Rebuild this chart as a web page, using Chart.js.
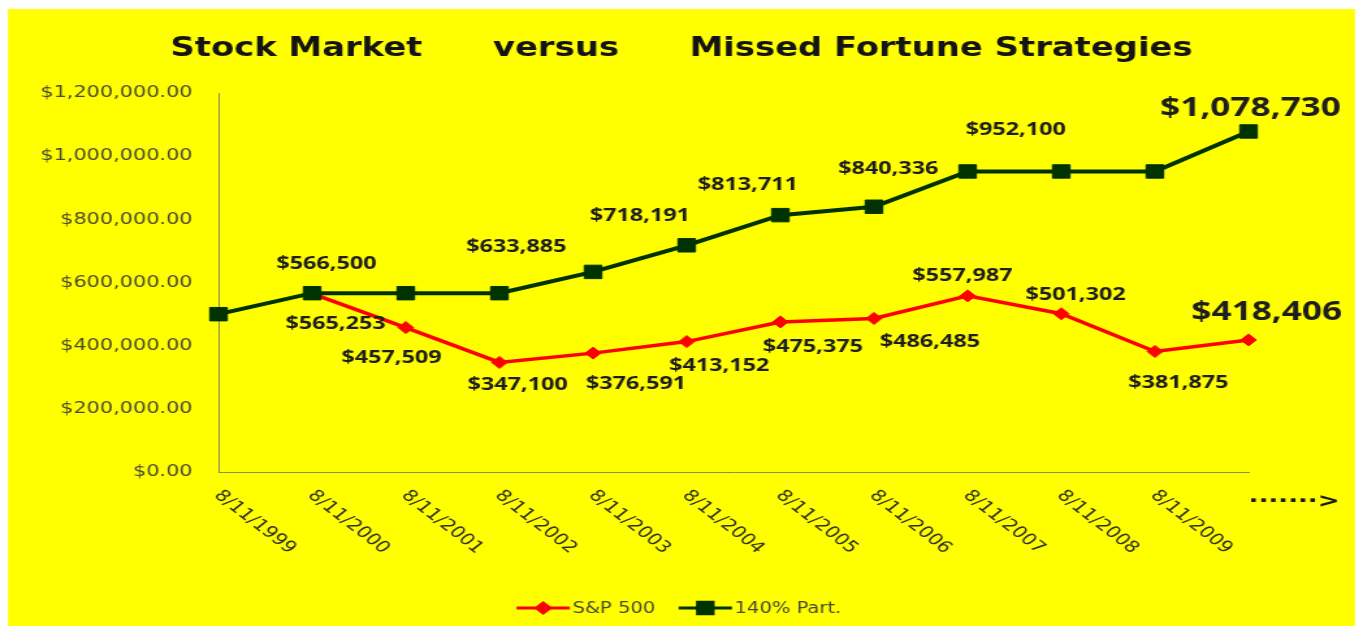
<!DOCTYPE html>
<html>
<head>
<meta charset="utf-8">
<script src="https://cdn.jsdelivr.net/npm/chart.js@4.4.1/dist/chart.umd.min.js"></script>
<style>
  html, body { margin: 0; padding: 0; background: #ffffff; overflow: hidden; }
  #wrap { position: absolute; left: 0; top: 0; width: 1048px; height: 632px;
          transform: scaleX(1.30057); transform-origin: 0 0; }
</style>
</head>
<body>
<div id="wrap"><canvas id="c"></canvas></div>
<script>
// ---------------- data ----------------
const categories = ['8/11/1999','8/11/2000','8/11/2001','8/11/2002','8/11/2003','8/11/2004',
                    '8/11/2005','8/11/2006','8/11/2007','8/11/2008','8/11/2009','\u00B7\u00B7\u00B7\u00B7\u00B7\u00B7\u00B7>'];
const sp500Values   = [null, 565253, 457509, 347100, 376591, 413152, 475375, 486485, 557987, 501302, 381875, 418406];
const part140Values = [500000, 566500, 566500, 566500, 633885, 718191, 813711, 840336, 952100, 952100, 952100, 1078730];
const seriesNames = ['S&P 500', '140% Part.'];
const yMin = 0, yMax = 1200000, yStep = 200000;
const chartTitle = 'Stock Market      versus      Missed Fortune Strategies';

// ---------------- style (label placement offsets, px) ----------------
const spLabelOffsets   = [null,[18,30],[-11,30],[14,22],[33,31],[25,24],[25,25],[43,23],[-4,-20],[11,-19],[18,31],[14,-28]];
const partLabelOffsets = [null,[11,-29],null,null,[-59,-25],[-36,-29],[-25,-30],[11,-38],[37,-42],null,null,[1.5,-23]];

const RED = '#ff0000';
const GREEN = '#003300';
const AXIS = '#8a8a5a';
const TICK_COLOR = '#4a4a30';

Chart.defaults.font.family = "'DejaVu Sans', sans-serif";

const money = v => '$' + Math.round(v).toLocaleString('en-US');
const money2 = v => '$' + Number(v).toLocaleString('en-US', {minimumFractionDigits: 2, maximumFractionDigits: 2});

const bgPlugin = {
  id: 'bg',
  beforeDraw(chart) {
    const ctx = chart.ctx;
    ctx.save();
    ctx.fillStyle = '#ffff00';
    ctx.fillRect(8 / 1.30057, 9, (1355 - 8) / 1.30057, 617);
    ctx.restore();
  }
};

const dataLabelPlugin = {
  id: 'dataLabels',
  afterDatasetsDraw(chart) {
    const ctx = chart.ctx;
    ctx.save();
    ctx.textAlign = 'center';
    ctx.textBaseline = 'middle';
    ctx.fillStyle = '#1e1e1e';
    chart.data.datasets.forEach((ds, di) => {
      const meta = chart.getDatasetMeta(di);
      const last = ds.data.length - 1;
      meta.data.forEach((pt, i) => {
        const off = ds.labelOffsets && ds.labelOffsets[i];
        if (!off || ds.data[i] == null) return;
        ctx.font = (i === last ? "bold 27px 'Open Sans'" : "bold 18px 'Open Sans'");
        ctx.fillText(money(ds.data[i]), pt.x + off[0], pt.y + off[1]);
      });
    });
    ctx.restore();
  }
};

const xLabelPlugin = {
  id: 'xLabels',
  afterDraw(chart) {
    const ctx = chart.ctx;
    const xs = chart.scales.x;
    const base = chart.chartArea.bottom;
    ctx.save();
    chart.data.labels.forEach((lab, i) => {
      const x = xs.getPixelForTick(i);
      if (i === chart.data.labels.length - 1) {
        ctx.font = "bold 20px 'DejaVu Sans'";
        ctx.fillStyle = '#1a1a1a';
        ctx.textAlign = 'center';
        ctx.textBaseline = 'middle';
        ctx.fillText(lab, x + 35, base + 30);
      } else {
        ctx.save();
        ctx.translate(x + 28, base + 50);
        ctx.rotate(Math.PI / 4);
        ctx.font = "16px 'DejaVu Sans'";
        ctx.fillStyle = '#2e2e22';
        ctx.textAlign = 'center';
        ctx.textBaseline = 'middle';
        ctx.fillText(lab, 0, 0);
        ctx.restore();
      }
    });
    ctx.restore();
  }
};

const legendPlugin = {
  id: 'customLegend',
  afterDraw(chart) {
    const ctx = chart.ctx;
    ctx.save();
    ctx.font = "15px 'DejaVu Sans'";
    const lineLen = 41, gapText = 2, gapItem = 18;
    const items = chart.data.datasets.map(ds => ({ds, w: ctx.measureText(ds.label).width}));
    let total = 0;
    items.forEach((it, k) => { total += lineLen + gapText + it.w + (k < items.length - 1 ? gapItem : 0); });
    let x = chart.width / 2 - total / 2 - 2;
    const y = 608;
    items.forEach(it => {
      const ds = it.ds;
      ctx.strokeStyle = ds.borderColor;
      ctx.lineWidth = 3;
      ctx.beginPath(); ctx.moveTo(x, y); ctx.lineTo(x + lineLen, y); ctx.stroke();
      ctx.fillStyle = ds.backgroundColor;
      ctx.strokeStyle = ds.borderColor;
      Chart.helpers.drawPoint(ctx, {pointStyle: ds.pointStyle, radius: ds.legendRadius, borderWidth: 1, rotation: 0},
                              x + lineLen / 2, y);
      ctx.fillStyle = TICK_COLOR;
      ctx.textAlign = 'left';
      ctx.textBaseline = 'middle';
      ctx.fillText(ds.label, x + lineLen + gapText, y + 1);
      x += lineLen + gapText + it.w + gapItem;
    });
    ctx.restore();
  }
};

new Chart(document.getElementById('c'), {
  type: 'line',
  data: {
    labels: categories,
    datasets: [
      { label: seriesNames[0], data: sp500Values, borderColor: RED, backgroundColor: RED,
        borderWidth: 3.5, pointStyle: 'rectRot', pointRadius: 6, pointBorderWidth: 1,
        pointBackgroundColor: RED, pointBorderColor: RED, tension: 0, order: 1,
        labelOffsets: spLabelOffsets, legendRadius: 5 },
      { label: seriesNames[1], data: part140Values, borderColor: GREEN, backgroundColor: GREEN,
        borderWidth: 4, pointStyle: 'rect', pointRadius: 9.5, pointBorderWidth: 1,
        pointBackgroundColor: GREEN, pointBorderColor: GREEN, tension: 0, order: 0,
        labelOffsets: partLabelOffsets, legendRadius: 8 }
    ]
  },
  options: {
    responsive: true,
    maintainAspectRatio: false,
    animation: false,
    events: [],
    layout: { padding: { left: 0, right: 0, top: 0, bottom: 0 } },
    plugins: {
      legend: { display: false },
      tooltip: { enabled: false },
      title: {
        display: true, text: chartTitle, color: '#141414',
        font: { family: "'DejaVu Sans'", size: 26, weight: 'bold', lineHeight: 1.2 },
        padding: { top: 34, bottom: 28 }
      }
    },
    scales: {
      x: {
        type: 'category',
        offset: false,
        grid: { display: false, drawTicks: false },
        border: { display: true, color: AXIS, width: 1 },
        ticks: { display: false },
        afterFit(scale) { scale.height = 160; }
      },
      y: {
        min: yMin, max: yMax,
        grid: { display: false, drawTicks: false },
        border: { display: true, color: AXIS, width: 1 },
        ticks: {
          stepSize: yStep, padding: 20, color: TICK_COLOR,
          font: { family: "'DejaVu Sans'", size: 16 },
          callback: v => money2(v)
        },
        afterFit(scale) { scale.width = 168; }
      },
      yRightSpace: {
        position: 'right',
        display: true,
        grid: { display: false, drawTicks: false },
        border: { display: false },
        ticks: { display: false },
        afterFit(scale) { scale.width = 88; }
      }
    }
  },
  plugins: [bgPlugin, dataLabelPlugin, xLabelPlugin, legendPlugin]
});
</script>
</body>
</html>
